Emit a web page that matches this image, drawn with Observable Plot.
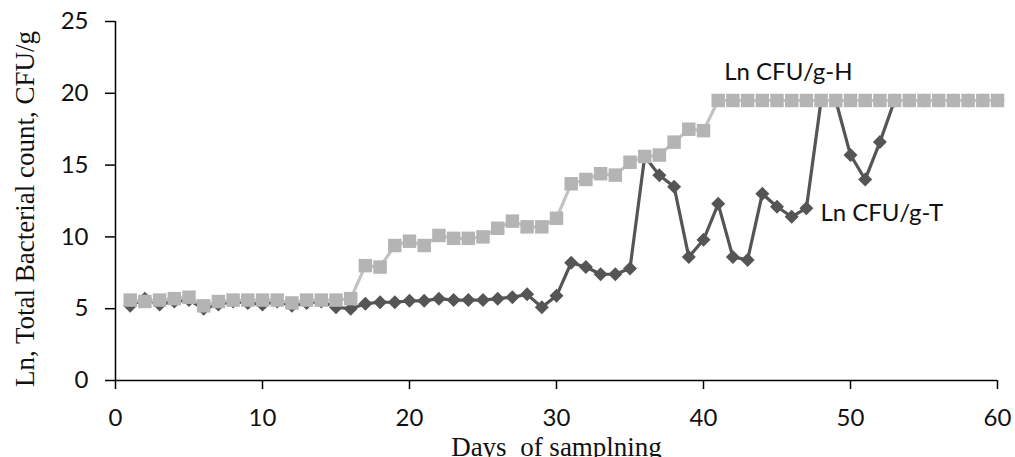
<!DOCTYPE html>
<html>
<head>
<meta charset="utf-8">
<script src="https://cdn.jsdelivr.net/npm/d3@7"></script>
<script src="https://cdn.jsdelivr.net/npm/@observablehq/plot@0.6"></script>
<style>
  html, body { margin: 0; padding: 0; background: #fff; }
  #chart svg { display: block; }
</style>
</head>
<body>
<div id="chart"></div>
<script>
// ---- data ----
const days = [1,2,3,4,5,6,7,8,9,10,11,12,13,14,15,16,17,18,19,20,
              21,22,23,24,25,26,27,28,29,30,31,32,33,34,35,36,37,38,39,40,
              41,42,43,44,45,46,47,48,49,50,51,52,53,54,55,56,57,58,59,60];
const valuesH = [5.6,5.5,5.6,5.7,5.8,5.2,5.5,5.6,5.6,5.6,
                 5.6,5.4,5.6,5.6,5.6,5.7,8.0,7.9,9.4,9.7,
                 9.4,10.1,9.9,9.9,10.0,10.6,11.1,10.7,10.7,11.3,
                 13.7,14.0,14.4,14.3,15.2,15.6,15.7,16.6,17.5,17.4,
                 19.5,19.5,19.5,19.5,19.5,19.5,19.5,19.5,19.5,19.5,
                 19.5,19.5,19.5,19.5,19.5,19.5,19.5,19.5,19.5,19.5];
const valuesT = [5.2,5.7,5.3,5.5,5.6,5.0,5.3,5.5,5.4,5.3,
                 5.5,5.2,5.4,5.5,5.1,5.0,5.35,5.45,5.45,5.55,
                 5.55,5.7,5.6,5.6,5.6,5.7,5.8,6.0,5.1,5.9,
                 8.2,7.9,7.4,7.4,7.8,15.6,14.3,13.5,8.6,9.8,
                 12.3,8.6,8.4,13.0,12.1,11.4,12.0,19.5,19.5,15.7,
                 14.0,16.6,19.5,19.5,19.5,19.5,19.5,19.5,19.5,19.5];
const seriesNames = ["Ln CFU/g-H", "Ln CFU/g-T"];
const labelDays = [41, 47];           // day where each series label is attached
const xTicks = [0, 10, 20, 30, 40, 50, 60];
const yTicks = [0, 5, 10, 15, 20, 25];
const xTitle = "Days  of samplning";
const yTitle = "Ln, Total Bacterial count, CFU/g";

// ---- tables ----
const H = days.map((d, i) => ({day: d, v: valuesH[i]}));
const T = days.map((d, i) => ({day: d, v: valuesT[i]}));
const labelH = H.filter(d => d.day === labelDays[0]).map(d => ({...d, text: seriesNames[0]}));
const labelT = T.filter(d => d.day === labelDays[1]).map(d => ({...d, text: seriesNames[1]}));

// Excel-like diamond (square rotated 45deg), half-diagonal = r
const diamond = {
  draw(context, size) {
    const r = Math.sqrt(size / Math.PI);
    context.moveTo(0, -r);
    context.lineTo(r, 0);
    context.lineTo(0, r);
    context.lineTo(-r, 0);
    context.closePath();
  }
};

const colH = "#b4b4b4", colHline = "#c2c2c2";
const colT = "#555555";

const chart = Plot.plot({
  width: 1015,
  height: 457,
  marginLeft: 115,
  marginRight: 18,
  marginTop: 21,
  marginBottom: 77,
  style: {fontFamily: "Lato, 'Open Sans', sans-serif", fontSize: "24px", color: "#111", background: "#fff"},
  x: {domain: [0, 60]},
  y: {domain: [0, 25]},
  marks: [
    Plot.axisY({ticks: yTicks, tickSize: 10, tickPadding: 17, label: null, stroke: "#000", strokeWidth: 1.5, fontSize: 24}),
    Plot.axisX({ticks: xTicks, tickSize: 9, tickPadding: 19, label: null, stroke: "#000", strokeWidth: 1.5, fontSize: 24}),
    Plot.ruleX([0], {stroke: "#000", strokeWidth: 1.5}),
    Plot.ruleY([0], {stroke: "#000", strokeWidth: 1.5}),
    // T series
    Plot.line(T, {x: "day", y: "v", stroke: colT, strokeWidth: 3.2}),
    Plot.dot(T, {x: "day", y: "v", symbol: diamond, r: 7, fill: colT, stroke: "none"}),
    // H series (on top)
    Plot.line(H, {x: "day", y: "v", stroke: colHline, strokeWidth: 3.2}),
    Plot.dot(H, {x: "day", y: "v", symbol: "square", r: 7.6, fill: colH, stroke: "none"}),
    // series labels
    Plot.text(labelH, {x: "day", y: "v", text: "text", textAnchor: "start", dx: 6, dy: -28, fontSize: 24, fill: "#111"}),
    Plot.text(labelT, {x: "day", y: "v", text: "text", textAnchor: "start", dx: 14, dy: 5, fontSize: 24, fill: "#111"}),
    // axis titles
    Plot.text([yTitle], {frameAnchor: "left", text: d => d, rotate: -90, dx: -90, dy: 8,
      textAnchor: "middle", lineAnchor: "middle",
      fontFamily: "'Liberation Serif', 'DejaVu Serif', serif", fontSize: 27, fill: "#111"}),
    Plot.text([xTitle], {frameAnchor: "bottom", text: d => d, dy: 67,
      textAnchor: "middle", lineAnchor: "middle",
      fontFamily: "'Liberation Serif', 'DejaVu Serif', serif", fontSize: 27, fill: "#111"})
  ]
});
document.getElementById("chart").appendChild(chart);
</script>
</body>
</html>
